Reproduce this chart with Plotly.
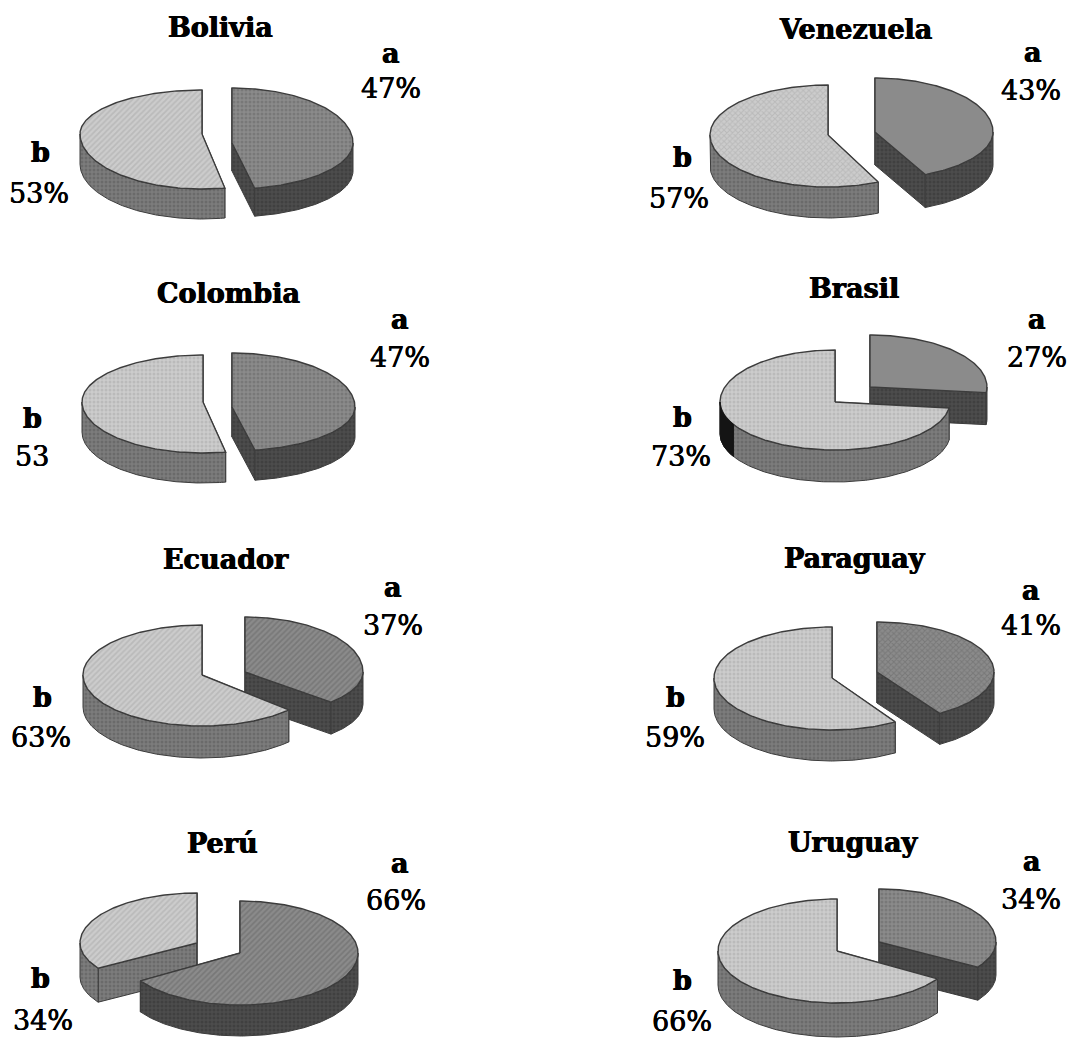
import math
import plotly.graph_objects as go

# Share of answers per country, two categories
countries = ["Bolivia", "Venezuela", "Colombia", "Brasil", "Ecuador", "Paraguay", "Perú", "Uruguay"]
a_values = [47, 43, 47, 27, 37, 41, 66, 34]
b_values = [53, 57, 53, 73, 63, 59, 34, 66]
a_labels = ["47%", "43%", "47%", "27%", "37%", "41%", "66%", "34%"]
b_labels = ["53%", "57%", "53", "73%", "63%", "59%", "34%", "66%"]

# Wedge geometry per country: apex x, apex y, rx, ry up, ry down, depth
WEDGE_A = {
    "Bolivia": (232, 143, 121, 55, 46, 28),
    "Venezuela": (875, 132, 118, 54, 47, 33),
    "Colombia": (232, 407, 123, 54, 44, 30),
    "Brasil": (870, 387, 117, 52, 45, 32),
    "Ecuador": (245, 672, 118, 55, 44, 32),
    "Paraguay": (877, 672, 117, 50, 49, 31),
    "Perú": (240, 953, 118, 52, 52, 31),
    "Uruguay": (879, 942, 117, 53, 47, 33),
}
WEDGE_B = {
    "Bolivia": (202, 134, 122, 44, 55, 30),
    "Venezuela": (828, 135, 118, 50, 52, 31),
    "Colombia": (203, 402, 121, 47, 51, 30),
    "Brasil": (835, 402, 115, 52, 48, 32),
    "Ecuador": (202, 675, 119, 50, 51, 32),
    "Paraguay": (832, 678, 118, 51, 52, 31),
    "Perú": (197, 943, 117, 50, 47, 34),
    "Uruguay": (837, 951, 119, 52, 52, 34),
}

# Fill texture of the top faces
TEXTURE_A = {"Bolivia": ".", "Venezuela": "", "Colombia": ".", "Brasil": "",
             "Ecuador": "/", "Paraguay": "x", "Perú": "/", "Uruguay": "."}
TEXTURE_B = {"Bolivia": "/", "Venezuela": "x", "Colombia": ".", "Brasil": ".",
             "Ecuador": "/", "Paraguay": ".", "Perú": "/", "Uruguay": "."}

# Text centres: title, "a", a value, "b", b value
TEXT_POS = {
    "Bolivia": ((220, 27), (391, 53), (391, 88), (40, 152), (39, 193)),
    "Venezuela": ((855, 29), (1033, 52), (1031, 90), (682, 157), (679, 198)),
    "Colombia": ((228, 293), (400, 319), (400, 357), (32, 418), (32, 456)),
    "Brasil": ((854, 288), (1037, 319), (1037, 357), (682, 417), (681, 456)),
    "Ecuador": ((226, 559), (393, 587), (393, 625), (42, 697), (41, 737)),
    "Paraguay": ((855, 558), (1031, 590), (1031, 625), (675, 697), (675, 737)),
    "Perú": ((222, 843), (400, 863), (396, 900), (40, 978), (43, 1020)),
    "Uruguay": ((853, 842), (1032, 861), (1031, 899), (682, 980), (682, 1021)),
}

STYLE_A = {"top": "#8b8b8b", "top_fg": "#666666", "wall": "#4c4c4c", "wall_fg": "#343434"}
STYLE_B = {"top": "#cccccc", "top_fg": "#a8a8a8", "wall": "#7c7c7c", "wall_fg": "#585858"}
EDGE = "#3c3c3c"
SERIF = "DejaVu Serif"
HEAVY = "0.5px 0 0 #000, -0.5px 0 0 #000"
MEDIUM = "0.35px 0 0 #000, -0.35px 0 0 #000"

fig = go.Figure()


def rim_point(geom, deg):
    ax, ay, rx, up, down, _ = geom
    t = math.radians(deg)
    c = math.cos(t)
    return ax + rx * math.sin(t), ay - (up if c > 0 else down) * c


def arc(geom, start, end):
    n = max(2, int(abs(end - start)) + 1)
    return [rim_point(geom, start + (end - start) * i / (n - 1)) for i in range(n)]


def polygon(points, fill, fg, shape, name, line_width=1.0):
    xs = [p[0] for p in points] + [points[0][0]]
    ys = [p[1] for p in points] + [points[0][1]]
    fig.add_trace(go.Scatter(
        x=xs, y=ys, mode="lines", fill="toself", fillcolor=fill,
        fillpattern=dict(shape=shape, bgcolor=fill, fgcolor=fg, size=4, solidity=0.45) if shape else None,
        line=dict(color=EDGE, width=line_width), name=name, hoverinfo="name", showlegend=False,
    ))


def wedge(geom, start, end, style, shape, name):
    ax, ay, _, _, _, depth = geom
    wall_shape = "."
    # radial cut faces
    for deg in (start, end):
        p = rim_point(geom, deg)
        polygon([(ax, ay), p, (p[0], p[1] + depth), (ax, ay + depth)],
                style["wall"], style["wall_fg"], wall_shape, name)
    # outer wall, front half only
    lo, hi = max(start, 90), min(end, 270)
    if lo < hi:
        rim = arc(geom, lo, hi)
        polygon(rim + [(x, y + depth) for x, y in reversed(rim)],
                style["wall"], style["wall_fg"], wall_shape, name)
    # top face
    polygon([(ax, ay)] + arc(geom, start, end), style["top"], style["top_fg"], shape, name, 1.4)


for i, country in enumerate(countries):
    a_end = a_values[i] * 3.6
    b_end = a_end + b_values[i] * 3.6
    parts = [
        (WEDGE_A[country], 0, a_end, STYLE_A, TEXTURE_A[country], f"{country} a"),
        (WEDGE_B[country], a_end, b_end, STYLE_B, TEXTURE_B[country], f"{country} b"),
    ]
    # the wedge whose apex sits lower is nearer the viewer
    for geom, start, end, style, shape, name in sorted(parts, key=lambda p: p[0][1]):
        wedge(geom, start, end, style, shape, name)

    pos = TEXT_POS[country]
    texts = [(country, 27, 700, HEAVY), ("a", 27, 700, HEAVY), (a_labels[i], 27, 400, MEDIUM),
             ("b", 27, 700, HEAVY), (b_labels[i], 27, 400, MEDIUM)]
    for (x, y), (text, size, weight, shadow) in zip(pos, texts):
        fig.add_annotation(x=x, y=y, text=text, showarrow=False, xanchor="center", yanchor="middle",
                           font=dict(family=SERIF, size=size, color="#000000", weight=weight, shadow=shadow))

# Dark patch on the left of the Brasil wall
geom = WEDGE_B["Brasil"]
rim = arc(geom, 242, 270)
fig.add_trace(go.Scatter(
    x=[p[0] for p in rim] + [p[0] for p in reversed(rim)] + [rim[0][0]],
    y=[p[1] for p in rim] + [p[1] + geom[5] for p in reversed(rim)] + [rim[0][1]],
    mode="lines", fill="toself", fillcolor="#141414", line=dict(color="#141414", width=1),
    hoverinfo="skip", showlegend=False,
))

fig.update_layout(
    width=1071, height=1038, margin=dict(l=0, r=0, t=0, b=0),
    paper_bgcolor="white", plot_bgcolor="white", showlegend=False,
    xaxis=dict(range=[0, 1071], visible=False, fixedrange=True),
    yaxis=dict(range=[1038, 0], visible=False, fixedrange=True),
)
fig.write_html("out.html", config={"displayModeBar": False})
